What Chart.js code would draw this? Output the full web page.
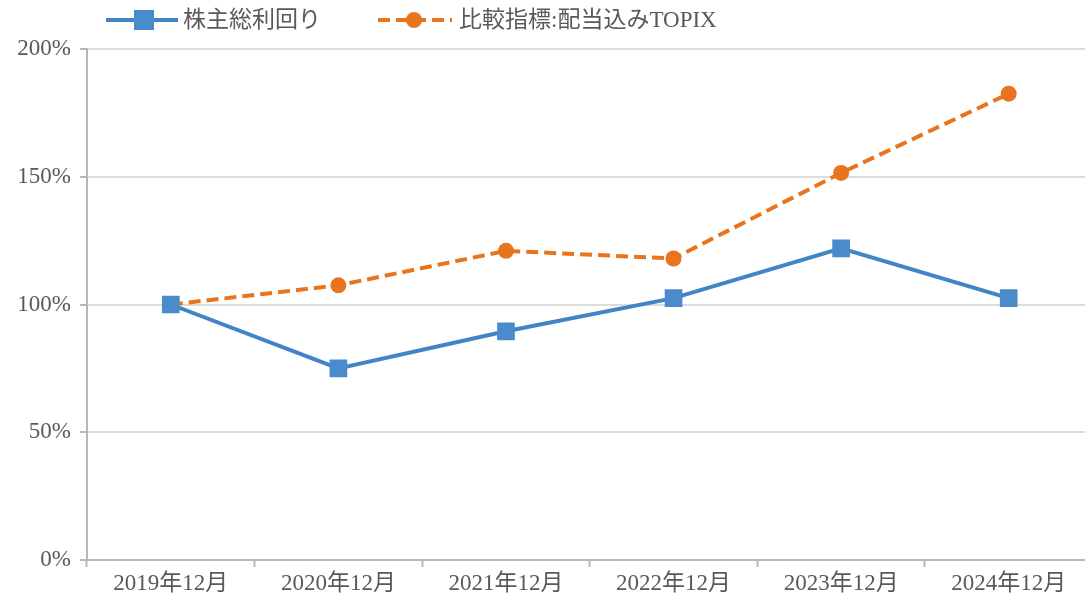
<!DOCTYPE html>
<html>
<head>
<meta charset="utf-8">
<script src="https://cdn.jsdelivr.net/npm/chart.js@4/dist/chart.umd.min.js"></script>
<style>
  html, body { margin: 0; padding: 0; background: #fff; overflow: hidden; }
  #wrap { width: 1105px; height: 605px; }
</style>
</head>
<body>
<div id="wrap"><canvas id="myChart"></canvas></div>
<script>
const labels = ['2019年12月', '2020年12月', '2021年12月', '2022年12月', '2023年12月', '2024年12月'];
const kabunushi = [100, 75, 89.5, 102.5, 122, 102.5];
const topix = [100, 107.5, 121, 118, 151.5, 182.5];
const yTicks = [0, 50, 100, 150, 200];

const fontFamily = '"Liberation Serif", "Noto Sans CJK JP", serif';
const textColor = '#595959';
const axisColor = '#BDB6B3';
const gridColor = '#DCDCDC';
const blue = '#4285C6';
const orange = '#E8751E';

// legend drawn by hand: line + marker + text
const legendPlugin = {
    id: 'handLegend',
    afterDraw(chart) {
        const c = chart.ctx;
        const y = 20;
        c.save();
        // 株主総利回り
        c.strokeStyle = blue;
        c.lineWidth = 4;
        c.setLineDash([]);
        c.beginPath();
        c.moveTo(106, y);
        c.lineTo(178, y);
        c.stroke();
        c.fillStyle = '#4A8BCB';
        c.fillRect(134, y - 10, 20, 20);
        // 比較指標
        c.strokeStyle = orange;
        c.setLineDash([12, 6]);
        c.beginPath();
        c.moveTo(378, y);
        c.lineTo(452, y);
        c.stroke();
        c.setLineDash([]);
        c.fillStyle = orange;
        c.beginPath();
        c.arc(414, y, 8, 0, Math.PI * 2);
        c.fill();
        c.fillStyle = textColor;
        c.font = '23px ' + fontFamily;
        c.textBaseline = 'middle';
        c.fillText(chart.data.datasets[0].label, 183, y + 1);
        c.fillText(chart.data.datasets[1].label, 459, y + 1);
        c.restore();
    }
};

new Chart(document.getElementById('myChart'), {
    type: 'line',
    data: {
        labels: labels,
        datasets: [{
            label: '株主総利回り',
            data: kabunushi,
            borderColor: blue,
            backgroundColor: '#4A8BCB',
            borderWidth: 4,
            pointStyle: 'rect',
            pointRadius: 12.5,
            pointBorderWidth: 0,
            tension: 0
        }, {
            label: '比較指標:配当込みTOPIX',
            data: topix,
            borderColor: orange,
            backgroundColor: orange,
            borderWidth: 4,
            borderDash: [12, 6],
            pointStyle: 'circle',
            pointRadius: 8,
            pointBorderWidth: 0,
            tension: 0
        }]
    },
    options: {
        responsive: true,
        maintainAspectRatio: false,
        animation: false,
        layout: { padding: { top: 49, left: 0, right: 0, bottom: 0 } },
        plugins: {
            legend: { display: false },
            tooltip: { enabled: false }
        },
        scales: {
            x: {
                offset: true,
                afterFit: s => { s.height = 45; },
                grid: {
                    offset: true,
                    drawOnChartArea: false,
                    drawTicks: true,
                    tickLength: 7,
                    tickColor: axisColor,
                    tickWidth: 2
                },
                border: { color: axisColor, width: 2 },
                ticks: {
                    color: textColor,
                    padding: 3,
                    maxRotation: 0,
                    font: { family: fontFamily, size: 23 }
                }
            },
            y: {
                min: 0,
                max: 200,
                afterFit: s => { s.width = 87; },
                afterBuildTicks: s => { s.ticks = yTicks.map(v => ({ value: v })); },
                grid: {
                    color: gridColor,
                    lineWidth: 2,
                    drawTicks: true,
                    tickLength: 7,
                    tickColor: axisColor,
                    tickWidth: 2
                },
                border: { color: axisColor, width: 2 },
                ticks: {
                    color: textColor,
                    padding: 9,
                    font: { family: fontFamily, size: 23 },
                    callback: v => v + '%'
                }
            }
        }
    },
    plugins: [legendPlugin]
});
</script>
</body>
</html>
